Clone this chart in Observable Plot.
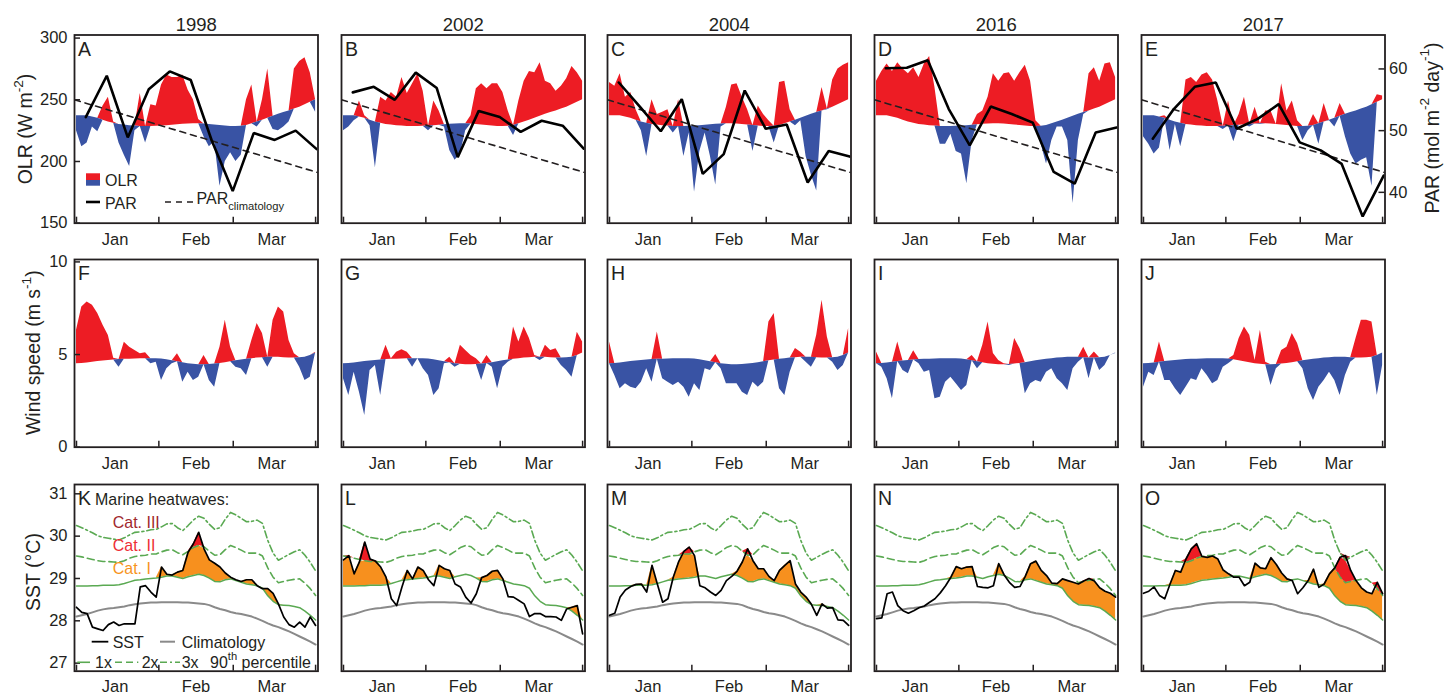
<!DOCTYPE html>
<html>
<head>
<meta charset="utf-8">
<script src="https://cdn.jsdelivr.net/npm/d3@7"></script>
<script src="https://cdn.jsdelivr.net/npm/@observablehq/plot@0.6"></script>
<style>
  html, body { margin: 0; padding: 0; background: #ffffff; }
  #chart { position: relative; width: 1446px; height: 696px;
           font-family: "Liberation Sans", Arial, Helvetica, sans-serif; }
  #chart svg { position: absolute; overflow: visible; }
</style>
</head>
<body>
<div id="chart"></div>
<script>
// ---------------- DATA ----------------
const years = ["1998", "2002", "2004", "2016", "2017"];
const letters = ["A","B","C","D","E","F","G","H","I","J","K","L","M","N","O"];
// day offset from 1 January (2-day sampling)
const days = [0,2,4,6,8,10,12,14,16,18,20,22,24,26,28,30,32,34,36,38,40,42,44,46,48,50,52,54,56,58,60,62,64,66,68,70,72,74,76,78,80,82,84,86,88,90];
const monthEdges = [0, 31, 59, 90];
const monthMid = [{d: 14.5, m: "Jan"}, {d: 45, m: "Feb"}, {d: 73.5, m: "Mar"}];

// OLR (W m-2)
const olrClim = [237,237,237,236,235,233.5,232,231,230,229.5,229,228.7,228.4,228.3,228.3,228.5,228.8,229,229.4,229.8,230.2,230.4,230.5,230.5,230.3,230,229.6,229.2,228.8,228.4,228.3,228.5,229.2,230.5,232,233.5,235,236.7,238.3,239.7,241,242.5,244,246,248,250];
const olr1998 = [225,212,215,228,224,245,252,232,215,205,196,225,255,215,246,245,262,270,268,268,270,258,250,234,220,212,216,180,200,207,200,205,250,262,228,250,275,226,225,228,232,275,281,284,272,240];
const olr2002 = [225,228,233,249,237,229,195,252,249,256,252,268,255,263,271,257,225,249,241,228,209,201,206,225,237,259,263,259,263,263,256,241,221,249,265,273,272,280,265,263,257,261,267,277,272,265];
const olr2004 = [264,261,271,252,256,242,225,204,250,238,240,242,223,250,204,223,175,208,223,204,181,228,244,262,263,252,242,208,245,238,233,215,264,265,242,229,233,204,189,176,260,242,266,275,278,280];
const olr2016 = [265,273,279,273,280,275,271,276,268,279,285,260,214,214,222,208,206,182,217,238,241,252,271,265,271,272,265,272,278,265,233,214,198,217,228,228,217,166,217,238,271,276,265,279,280,268];
const olr2017 = [220,214,206,211,237,209,230,212,266,268,264,270,272,266,249,226,249,216,238,252,228,244,230,241,241,230,263,241,249,233,217,225,238,214,247,233,228,247,220,206,198,201,203,180,254,253];

// PAR (mol m-2 day-1), 8-day composites
const parDays = [3.5, 11.4, 19.3, 27.2, 35.1, 43.0, 50.9, 58.8, 66.7, 74.6, 82.5, 90.4];
const par1998 = [52.2,58.9,48.9,56.7,59.6,58.2,48.4,40.2,49.6,48.5,50.0,47.0];
const par2002 = [56.2,57.1,55.0,59.4,56.9,45.7,53.2,52.2,49.8,51.6,50.8,47.1];
const par2004 = [57.8,53.9,49.9,55.1,43.0,46.2,56.5,50.3,51.0,41.6,46.7,45.8];
const par2016 = [60.1,60.2,61.4,53.5,47.6,53.9,52.7,51.3,43.3,41.4,49.7,50.5];
const par2017 = [48.7,53.5,57.1,57.8,50.3,51.9,54.3,48.1,46.8,44.6,36.1,42.7];
const parClimDays = [-0.75, 90.9];
const parClim = [55.0, 43.2];
const parTicks = [40, 50, 60];

// Wind speed (m s-1)
const windClim = [4.50,4.52,4.55,4.58,4.62,4.65,4.68,4.71,4.73,4.74,4.75,4.76,4.77,4.77,4.77,4.77,4.76,4.72,4.67,4.61,4.56,4.51,4.47,4.45,4.45,4.46,4.49,4.52,4.56,4.61,4.66,4.71,4.75,4.78,4.81,4.83,4.85,4.86,4.85,4.83,4.81,4.81,4.83,4.86,4.95,5.08];
const wind1998 = [6.31,7.57,7.84,7.66,7.21,6.58,6.03,4.8,4.32,5.67,5.4,5.22,5.04,5.1,4.5,4.59,3.6,4.23,4.5,5.04,3.51,4.05,3.6,3.78,4.95,3.6,3.24,5.4,6.85,5.4,4.32,4.23,3.87,5.76,6.67,6.13,4.32,6.85,7.57,7.3,5.76,5.04,4.32,3.6,3.78,5.13];
const wind2002 = [3.69,2.79,4.05,2.97,1.71,4.14,4.41,2.79,5.5,4.77,5.13,5.26,5.13,4.32,4.77,4.23,3.87,2.79,3.15,4.5,4.86,4.32,5.5,5.22,4.95,4.77,3.6,4.95,4.32,3.15,4.32,4.59,6.49,5.68,6.49,5.86,4.95,4.68,5.5,5.22,5.31,4.41,4.14,3.78,6.2,5.68];
const wind2004 = [5.68,3.87,3.15,3.42,3.24,3.15,3.51,4.23,3.51,6.22,3.69,3.51,3.33,3.51,3.24,2.7,3.42,3.06,4.23,4.14,5.0,4.23,3.42,3.42,3.42,2.97,2.79,3.51,3.24,3.51,6.76,7.21,3.15,2.79,4.05,5.32,5.13,4.59,4.32,6.04,7.93,5.95,4.59,4.14,4.41,6.4];
const wind2016 = [5.14,4.32,3.69,2.61,5.68,4.14,3.96,5.2,4.5,4.05,4.14,2.61,2.7,3.51,3.78,3.42,3.06,3.33,4.95,4.23,5.5,6.76,5.05,4.68,4.5,4.41,5.86,5.32,2.88,3.42,3.6,3.51,4.05,4.23,3.69,3.42,3.06,4.23,4.59,5.4,3.69,5.14,4.14,4.41,4.95,5.05];
const wind2017 = [3.24,4.05,3.87,5.68,3.6,3.6,3.15,2.79,3.24,3.69,3.6,4.23,3.87,3.42,3.6,4.32,4.5,4.95,5.86,6.49,6.04,4.68,6.31,4.59,3.33,4.23,5.22,5.4,6.13,5.59,4.23,3.15,2.52,3.24,3.6,4.05,3.6,2.79,3.87,4.59,5.86,6.85,6.85,6.76,2.79,4.41];

// SST (°C)
const sstClim = [28.10,28.13,28.16,28.2,28.24,28.27,28.29,28.3,28.32,28.34,28.37,28.39,28.41,28.42,28.43,28.43,28.44,28.44,28.44,28.44,28.43,28.43,28.42,28.41,28.40,28.37,28.32,28.28,28.25,28.21,28.18,28.16,28.13,28.1,28.05,28.0,27.94,27.89,27.85,27.8,27.75,27.69,27.63,27.57,27.51,27.44];
const sstP90 = [28.82,28.82,28.82,28.83,28.83,28.84,28.84,28.84,28.85,28.88,28.92,28.96,28.97,28.99,29.0,29.01,29.03,29.06,29.06,29.03,29.0,29.04,29.07,29.1,29.07,29.01,28.93,28.92,28.97,28.99,28.95,28.91,28.87,28.85,28.83,28.77,28.59,28.46,28.38,28.37,28.36,28.34,28.31,28.23,28.13,28.02];
const sst2x = [29.53,29.51,29.48,29.45,29.42,29.40,29.40,29.39,29.38,29.42,29.48,29.52,29.54,29.55,29.58,29.58,29.63,29.67,29.68,29.61,29.56,29.64,29.73,29.78,29.75,29.64,29.55,29.56,29.68,29.78,29.73,29.67,29.6,29.6,29.6,29.53,29.25,29.03,28.9,28.93,28.96,28.98,28.99,28.89,28.76,28.6];
const sst3x = [30.25,30.2,30.14,30.08,30.01,29.97,29.95,29.93,29.91,29.96,30.03,30.09,30.1,30.12,30.15,30.16,30.22,30.29,30.3,30.2,30.13,30.25,30.38,30.47,30.42,30.28,30.16,30.2,30.4,30.56,30.5,30.42,30.34,30.35,30.38,30.3,29.9,29.6,29.43,29.5,29.57,29.63,29.68,29.55,29.38,29.18];
const sst1998 = [28.32,28.2,28.17,27.85,27.81,27.77,27.91,27.97,27.89,27.93,27.93,27.93,28.8,28.83,28.68,28.56,29.27,29.1,29.08,29.15,29.19,29.62,29.82,30.09,29.7,29.44,29.36,29.27,29.13,29.03,28.97,28.93,28.97,28.97,28.83,28.76,28.76,28.65,28.4,28.09,27.91,27.85,27.97,27.85,28.09,27.89];
const sst2002 = [29.44,29.54,29.11,29.39,29.86,29.46,29.41,29.27,29.03,28.52,28.36,28.8,29.19,28.99,29.27,29.19,28.97,28.83,29.31,29.23,29.19,28.87,28.8,28.56,28.42,28.64,29.02,29.07,29.17,29.19,28.99,28.57,28.56,28.48,28.4,28.1,28.17,28.17,28.1,28.1,28.09,28.01,28.28,28.32,28.36,27.69];
const sst2004 = [28.13,28.18,28.56,28.73,28.81,28.86,28.87,28.68,29.31,28.87,28.44,28.52,29.03,29.39,29.64,29.74,29.54,28.83,28.78,28.68,28.6,28.72,28.95,29.05,29.17,29.39,29.7,29.42,29.23,29.23,29.05,28.95,29.19,29.31,29.42,28.87,28.68,28.56,28.39,28.13,28.4,28.3,28.31,28.02,28.01,27.89];
const sst2016 = [28.05,28.07,28.64,28.68,28.36,28.24,28.18,28.24,28.31,28.35,28.44,28.52,28.66,28.83,29.03,29.28,29.23,29.27,29.28,28.81,28.79,28.78,28.83,29.35,29.09,28.91,28.79,28.81,29.05,29.35,29.41,29.19,29.07,28.89,28.88,28.99,28.95,28.91,28.87,28.94,29.0,28.94,28.78,28.7,28.65,28.56];
const sst2017 = [28.65,28.7,28.8,28.6,28.52,28.87,29.19,29.15,29.46,29.7,29.82,29.52,29.5,29.53,29.46,29.2,29.11,29.03,29.03,28.83,28.91,29.36,29.25,29.23,29.49,29.33,29.13,28.99,28.95,28.64,28.78,28.95,29.22,28.79,28.87,29.11,29.25,29.5,29.54,29.19,28.95,28.78,28.68,28.64,28.91,28.64];

const yTicks = [[150, 200, 250, 300], [0, 5, 10], [27, 28, 29, 30, 31]];

// ---------------- STYLE / LAYOUT ----------------
const INK = "#231f20", RED = "#ed1c24", BLUE = "#3953a4", ORANGE = "#f7901e",
      CAT2 = "#ed1c24", CAT3 = "#9e1f24", GREEN = "#5aa952", GRAY = "#8a8a8a";
const FONT = '"Liberation Sans", Arial, Helvetica, sans-serif';
const colLeft = [74, 340.7, 607.4, 874.1, 1140.8];
const BOX_W = 243.5;
const rowTop = [34.5, 259.3, 484];
const rowH = [188.2, 187.7, 186.7];
const rowMB = [28, 28, 24.5];
const monthDy = [10.5, 10.5, 9.3];
const yDomains = [[150, 302.5], [0, 10.13], [26.81, 31.22]];
const xDomain = [-0.75, 90.9];
const parToOlr = p => 5 * p - 25;   // secondary PAR axis mapped onto OLR axis

const olrSeries = [olr1998, olr2002, olr2004, olr2016, olr2017];
const parSeries = [par1998, par2002, par2004, par2016, par2017];
const windSeries = [wind1998, wind2002, wind2004, wind2016, wind2017];
const sstSeries = [sst1998, sst2002, sst2004, sst2016, sst2017];

const chart = document.getElementById("chart");

function rich(g, x, y, parts, size, opts = {}) {
  const t = g.append("text").attr("x", x).attr("y", y).attr("font-size", size)
    .attr("dominant-baseline", "central").attr("text-anchor", opts.anchor || "start")
    .attr("fill", opts.fill || INK);
  if (opts.rotate) t.attr("transform", `rotate(-90,${x},${y})`);
  let shift = 0;
  for (const [s, kind] of parts) {
    const target = kind === "sup" ? -0.38 * size : kind === "sub" ? 0.45 * size : 0;
    const sp = t.append("tspan").attr("dy", target - shift).text(s);
    if (kind) sp.attr("font-size", size * 0.7);
    shift = target;
  }
  return t;
}
function seg(g, x1, x2, y, stroke, width, dash) {
  const l = g.append("line").attr("x1", x1).attr("x2", x2).attr("y1", y).attr("y2", y)
    .attr("stroke", stroke).attr("stroke-width", width);
  if (dash) l.attr("stroke-dasharray", dash);
}
function overlay(build) {
  return () => {
    const g = d3.create("svg:g").attr("font-family", FONT);
    build(g);
    return g.node();
  };
}

function makePanel(row, col) {
  const ml = col === 0 ? 74 : 10;
  const mr = (row === 0 && col === 4) ? 61 : 10;
  const mt = row === 0 ? 34.5 : 8;
  const mb = rowMB[row];
  const H = rowH[row];
  const width = ml + BOX_W + mr, height = mt + H + mb;
  const left = colLeft[col] - ml, top = rowTop[row] - mt;
  const marks = [];

  if (row === 0) {
    const t = days.map((d, i) => ({d, v: olrSeries[col][i], c: olrClim[i]}));
    marks.push(Plot.areaY(t, {x: "d", y1: "c", y2: r => Math.max(r.v, r.c), fill: RED, clip: true}));
    marks.push(Plot.areaY(t, {x: "d", y1: "c", y2: r => Math.min(r.v, r.c), fill: BLUE, clip: true}));
    const pc = parClimDays.map((d, i) => ({d, p: parClim[i]}));
    marks.push(Plot.line(pc, {x: "d", y: r => parToOlr(r.p), stroke: INK, strokeWidth: 1.6, strokeDasharray: "6,5", clip: true}));
    const pt = parDays.map((d, i) => ({d, p: parSeries[col][i]}));
    marks.push(Plot.line(pt, {x: "d", y: r => parToOlr(r.p), stroke: "#000", strokeWidth: 2.6, strokeLinejoin: "miter", clip: true}));
  } else if (row === 1) {
    const t = days.map((d, i) => ({d, v: windSeries[col][i], c: windClim[i]}));
    marks.push(Plot.areaY(t, {x: "d", y1: "c", y2: r => Math.max(r.v, r.c), fill: RED, clip: true}));
    marks.push(Plot.areaY(t, {x: "d", y1: "c", y2: r => Math.min(r.v, r.c), fill: BLUE, clip: true}));
  } else {
    const t = days.map((d, i) => ({d, s: sstSeries[col][i], c: sstClim[i], p: sstP90[i], x2: sst2x[i], x3: sst3x[i]}));
    marks.push(Plot.areaY(t, {x: "d", y1: "p", y2: r => Math.min(Math.max(r.s, r.p), r.x2), fill: ORANGE, clip: true}));
    marks.push(Plot.areaY(t, {x: "d", y1: "x2", y2: r => Math.min(Math.max(r.s, r.x2), r.x3), fill: CAT2, clip: true}));
    marks.push(Plot.areaY(t, {x: "d", y1: "x3", y2: r => Math.max(r.s, r.x3), fill: CAT3, clip: true}));
    marks.push(Plot.line(t, {x: "d", y: "c", stroke: GRAY, strokeWidth: 2, clip: true}));
    marks.push(Plot.line(t, {x: "d", y: "p", stroke: GREEN, strokeWidth: 1.5, clip: true}));
    marks.push(Plot.line(t, {x: "d", y: "x2", stroke: GREEN, strokeWidth: 1.6, strokeDasharray: "7,4", clip: true}));
    marks.push(Plot.line(t, {x: "d", y: "x3", stroke: GREEN, strokeWidth: 1.6, strokeDasharray: "7,3,2,3", clip: true}));
    marks.push(Plot.line(t, {x: "d", y: "s", stroke: "#000", strokeWidth: 1.7, clip: true}));
  }

  marks.push(Plot.frame({stroke: INK, strokeWidth: 1.8}));
  marks.push(Plot.ruleX(monthEdges, {stroke: INK, strokeWidth: 1.5, insetTop: H - 6}));
  marks.push(Plot.text(monthMid, {x: "d", text: "m", frameAnchor: "bottom", lineAnchor: "top", dy: monthDy[row], fontSize: 16.5, fill: INK}));
  marks.push(Plot.text([letters[row * 5 + col]], {frameAnchor: "top-left", textAnchor: "start", lineAnchor: "middle", dx: 3.5, dy: 14.5, fontSize: 19.5, fill: INK}));

  if (row === 0) {
    marks.push(Plot.text([years[col]], {frameAnchor: "top", lineAnchor: "middle", dy: -9.5, fontSize: 18.5, fill: INK}));
  }
  if (col === 0) {
    marks.push(Plot.ruleY(yTicks[row], {stroke: INK, strokeWidth: 1.5, insetRight: BOX_W - 6}));
    marks.push(Plot.text(yTicks[row], {y: d => d, text: d => String(d), frameAnchor: "left", textAnchor: "end", dx: -7, fontSize: 16.5, fill: INK}));
  }
  if (row === 0 && col === 4) {
    marks.push(Plot.ruleY(parTicks, {y: p => parToOlr(p), stroke: INK, strokeWidth: 1.5, insetLeft: BOX_W - 6}));
    marks.push(Plot.text(parTicks, {y: p => parToOlr(p), text: p => String(p), frameAnchor: "right", textAnchor: "start", dx: 4, fontSize: 16.5, fill: INK}));
    marks.push(overlay(g => {
      rich(g, 1431.7 - left, 128 - top, [["PAR (mol m"], ["-2", "sup"], [" day"], ["-1", "sup"], [")"]], 19.5, {anchor: "middle", rotate: true});
    }));
  }
  if (row === 0 && col === 0) {
    marks.push(overlay(g => {
      rich(g, 25 - left, 129 - top, [["OLR (W m"], ["-2", "sup"], [")"]], 19.5, {anchor: "middle", rotate: true});
      // legend
      g.append("rect").attr("x", 86 - left).attr("y", 173.3 - top).attr("width", 14).attr("height", 6.7).attr("fill", RED);
      g.append("rect").attr("x", 86 - left).attr("y", 180 - top).attr("width", 14).attr("height", 5.7).attr("fill", BLUE);
      rich(g, 105 - left, 180 - top, [["OLR"]], 16);
      seg(g, 86 - left, 100 - left, 202 - top, "#000", 2.6);
      rich(g, 105 - left, 203 - top, [["PAR"]], 16);
      seg(g, 165 - left, 193 - left, 202 - top, INK, 1.6, "6,5");
      rich(g, 196.5 - left, 198.5 - top, [["PAR"], ["climatology", "sub"]], 16);
    }));
  }
  if (row === 1 && col === 0) {
    marks.push(overlay(g => {
      rich(g, 33.3 - left, 353 - top, [["Wind speed (m s"], ["-1", "sup"], [")"]], 19.5, {anchor: "middle", rotate: true});
    }));
  }
  if (row === 2 && col === 0) {
    marks.push(overlay(g => {
      rich(g, 33.3 - left, 572 - top, [["SST (°C)"]], 19.5, {anchor: "middle", rotate: true});
      rich(g, 95 - left, 498.7 - top, [["Marine heatwaves:"]], 16);
      rich(g, 112.7 - left, 521.7 - top, [["Cat. III"]], 16, {fill: "#a0282d"});
      rich(g, 112.7 - left, 545 - top, [["Cat. II"]], 16, {fill: "#ee2e36"});
      rich(g, 112.7 - left, 568.3 - top, [["Cat. I"]], 16, {fill: "#f7941d"});
      seg(g, 91.7 - left, 108.3 - left, 641.7 - top, "#000", 1.8);
      rich(g, 112.7 - left, 641.7 - top, [["SST"]], 16);
      seg(g, 160 - left, 175 - left, 641.7 - top, GRAY, 2);
      rich(g, 181.7 - left, 641.7 - top, [["Climatology"]], 16);
      seg(g, 77.3 - left, 90 - left, 662.3 - top, GREEN, 1.6);
      rich(g, 95 - left, 662.3 - top, [["1x"]], 16);
      seg(g, 115 - left, 138.3 - left, 662.3 - top, GREEN, 1.6, "7,4");
      rich(g, 141.7 - left, 662.3 - top, [["2x"]], 16);
      seg(g, 160 - left, 180 - left, 662.3 - top, GREEN, 1.6, "7,3,2,3");
      rich(g, 181.7 - left, 662.3 - top, [["3x"]], 16);
      rich(g, 210 - left, 662.3 - top, [["90"], ["th", "sup"], [" percentile"]], 16);
    }));
  }

  const svg = Plot.plot({
    width, height,
    marginLeft: ml, marginRight: mr, marginTop: mt, marginBottom: mb,
    x: {domain: xDomain, axis: null},
    y: {domain: yDomains[row], axis: null},
    style: {background: "transparent", overflow: "visible", fontFamily: FONT, color: INK},
    marks
  });
  svg.style.position = "absolute";
  svg.style.left = left + "px";
  svg.style.top = top + "px";
  chart.appendChild(svg);
}

for (let r = 0; r < 3; r++) for (let c = 0; c < 5; c++) makePanel(r, c);
</script>
</body>
</html>
